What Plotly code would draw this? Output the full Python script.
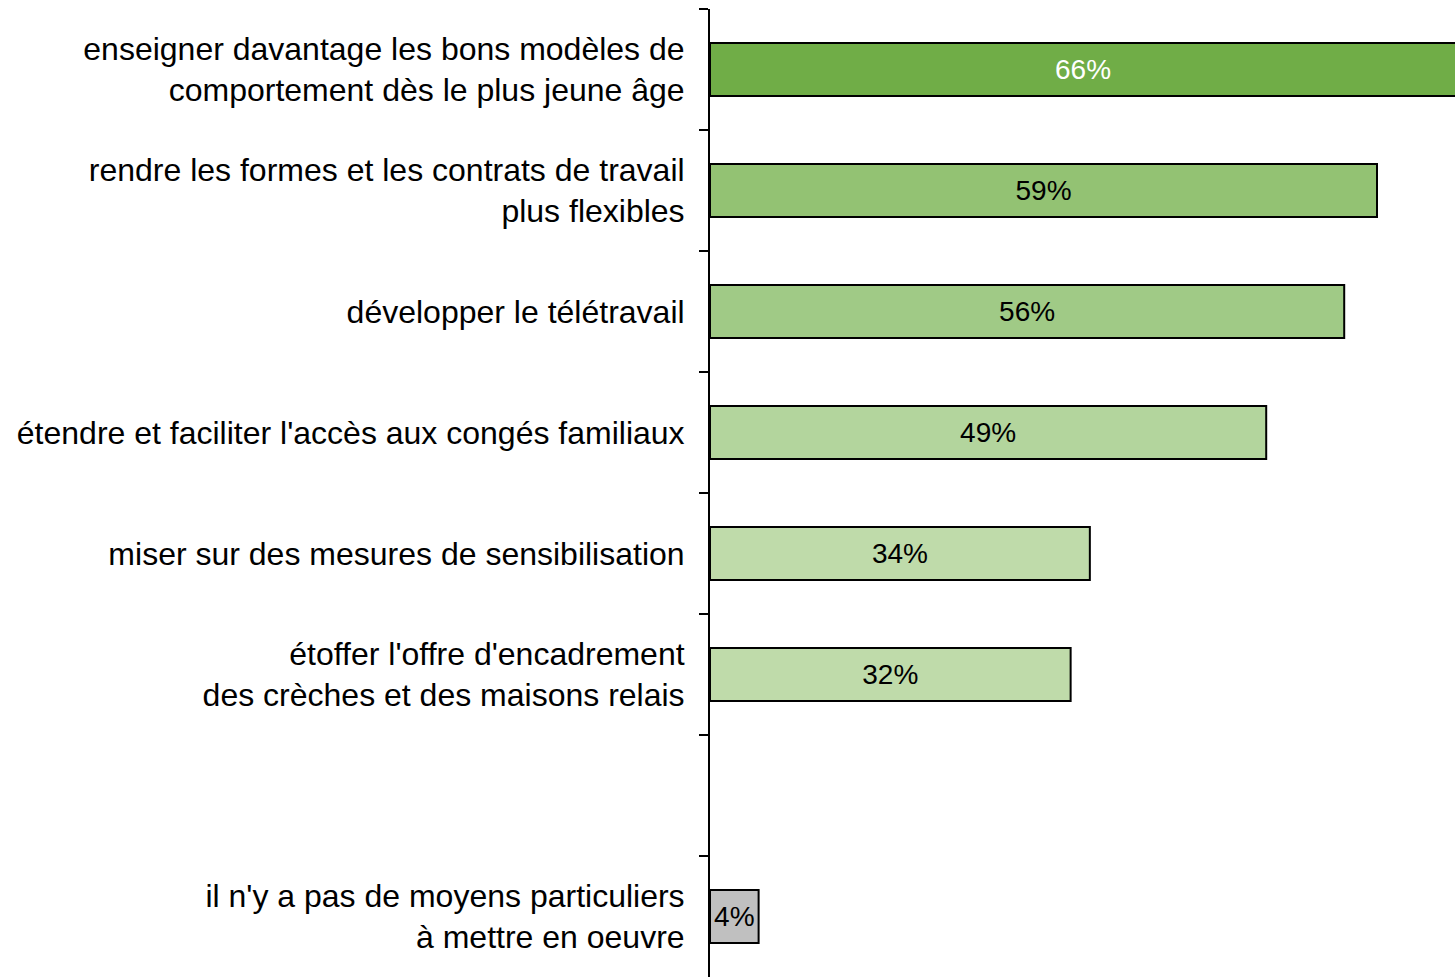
import plotly.graph_objects as go

# categories, top to bottom (one empty slot before the last)
categories = [
    "enseigner davantage les bons modèles de<br>comportement dès le plus jeune âge",
    "rendre les formes et les contrats de travail<br>plus flexibles",
    "développer le télétravail",
    "étendre et faciliter l'accès aux congés familiaux",
    "miser sur des mesures de sensibilisation",
    "étoffer l'offre d'encadrement<br>des crèches et des maisons relais",
    " ",
    "il n'y a pas de moyens particuliers<br>à mettre en oeuvre",
]
values = [66, 59, 56.1, 49.2, 33.6, 31.9, None, 4.3]
labels = ["66%", "59%", "56%", "49%", "34%", "32%", "", "4%"]
bar_colors = ["#70AD47", "#93C273", "#A0CA86", "#B3D59D", "#BFDBAA", "#BFDBAA", "#FFFFFF", "#C0C0C0"]
label_colors = ["white", "black", "black", "black", "black", "black", "black", "black"]

FONT = "Liberation Sans, Arial, sans-serif"

fig = go.Figure()

fig.add_trace(go.Bar(
    y=categories,
    x=values,
    orientation="h",
    marker=dict(color=bar_colors, line=dict(color="black", width=2)),
    text=labels,
    textposition="inside",
    insidetextanchor="middle",
    textangle=0,
    textfont=dict(family=FONT, size=28, color=label_colors),
    width=0.44,
    hoverinfo="skip",
))

fig.update_layout(
    width=1455,
    height=977,
    margin=dict(l=710, r=0, t=9, b=0),
    plot_bgcolor="white",
    paper_bgcolor="white",
    showlegend=False,
    uniformtext=dict(minsize=10, mode="show"),
    font=dict(family=FONT, size=28, color="black"),
    xaxis=dict(
        range=[0, 65.9],
        visible=False,
        showgrid=False,
        zeroline=False,
    ),
    yaxis=dict(
        type="category",
        categoryorder="array",
        categoryarray=categories,
        autorange="reversed",
        showline=True,
        linecolor="black",
        linewidth=2,
        ticks="outside",
        tickson="boundaries",
        ticklen=9,
        tickwidth=2,
        tickcolor="black",
        ticklabelstandoff=17,
        showgrid=False,
        tickfont=dict(family=FONT, size=32, color="black"),
    ),
)

# drop the page margin so the figure fills the window exactly
fig.write_html(
    "out.html",
    config={"displayModeBar": False},
    post_script="document.body.style.margin='0';document.documentElement.style.overflow='hidden';",
)
